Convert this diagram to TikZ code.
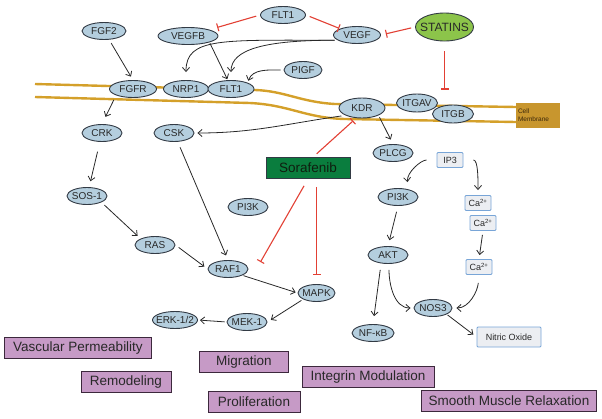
\documentclass[tikz,border=0pt]{standalone}
\usepackage{fontspec}
\setmainfont{Liberation Sans}
\usetikzlibrary{shapes.geometric,arrows.meta}
\definecolor{protfill}{RGB}{180,206,222}
\definecolor{protline}{RGB}{50,58,68}
\definecolor{txtgray}{RGB}{40,40,40}
\definecolor{statfill}{RGB}{140,196,74}
\definecolor{sorafill}{RGB}{10,125,62}
\definecolor{purpfill}{RGB}{198,154,198}
\definecolor{purpline}{RGB}{60,40,60}
\definecolor{membcol}{RGB}{212,160,42}
\definecolor{membbox}{RGB}{200,150,46}
\definecolor{inhred}{RGB}{226,64,52}
\definecolor{smallfill}{RGB}{236,238,242}
\definecolor{smallline}{RGB}{120,165,215}
\begin{document}
\begin{tikzpicture}[x=1pt,y=-1pt,
  prot/.style={ellipse, draw=protline, fill=protfill, line width=0.9pt, inner xsep=-3pt, inner ysep=0pt,
    minimum width=40, minimum height=17, text=txtgray, font=\fontsize{10}{11}\selectfont},
  small/.style={rectangle, rounded corners=1pt, draw=smallline, fill=smallfill, line width=0.9pt,
    minimum width=26, minimum height=15, inner sep=1pt, text=txtgray, font=\fontsize{9}{10}\selectfont},
  effect/.style={rectangle, draw=purpline, fill=purpfill, line width=0.8pt, minimum height=21,
    inner sep=2pt, text=txtgray, font=\fontsize{13.5}{15}\selectfont},
  membr/.style={draw=membcol, line width=2.4pt},
  act/.style={draw=txtgray, line width=0.8pt, -{Straight Barb[length=4pt,width=7pt]},
    shorten <=4pt, shorten >=4pt},
  inh/.style={draw=inhred, line width=1.1pt, -{Bar[width=8pt,line width=1.1pt]},
    shorten <=4pt, shorten >=4pt}]
\useasboundingbox (0,0) rectangle (602,418);
\draw[membr] (35,84) -- (255,90) .. controls (285,91) and (300,102) .. (335,104) -- (516,107);
\draw[membr] (35,97) -- (250,103) .. controls (290,105) and (305,118) .. (345,119) -- (516,122);
\node[rectangle, fill=membbox, text width=40pt, align=left, inner xsep=2pt, minimum height=25,
  font=\fontsize{6.5}{7.5}\selectfont, text={rgb,255:red,60;green,40;blue,10}] (cellm) at (538,115) {Cell\\Membrane};
\node[prot, minimum width=45] (flta) at (283,15) {FLT1};
\node[prot, minimum width=44] (fgf2) at (104,31) {FGF2};
\node[prot, minimum width=60] (vegfb) at (188,36) {VEGFB};
\node[prot, minimum width=47] (vegf) at (357,35) {VEGF};
\node[ellipse, draw=protline, fill=statfill, line width=0.9pt, inner xsep=-7pt, inner ysep=0pt,
  minimum width=58, minimum height=28, text=txtgray, font=\fontsize{12}{13}\selectfont] (statins) at (444.5,27) {STATINS};
\node[prot, minimum width=38] (pigf) at (303,70) {PIGF};
\node[prot, minimum width=47] (fgfr) at (133,89) {FGFR};
\node[prot, minimum width=45] (nrp1) at (186,89) {NRP1};
\node[prot, minimum width=46] (fltb) at (231,89) {FLT1};
\node[prot, minimum width=46, minimum height=20] (kdr) at (362,108) {KDR};
\node[prot, minimum width=41, minimum height=18] (itgav) at (417,103) {ITGAV};
\node[prot, minimum width=41, minimum height=18] (itgb) at (453,114) {ITGB};
\draw[inh, shorten >=8pt] (flta.west) -- (vegfb.north east);
\draw[inh, shorten >=1pt] (flta.east) -- (vegf.north west);
\draw[inh, shorten >=5pt] (statins.west) -- (vegf.east);
\draw[inh, shorten <=10pt] (statins.south) -- (statins.south |- itgav.north);
\draw[act] (fgf2) -- (fgfr.north);
\draw[act, shorten <=1pt, shorten >=1pt] (vegfb.south east) -- (fltb.110);
\draw[act, shorten <=3pt, shorten >=8pt] (vegf.195) to[out=180,in=90,out looseness=1.9,in looseness=0.7] (nrp1.north);
\draw[act, shorten <=3pt, shorten >=8pt] (vegf.195) to[out=180,in=90,out looseness=1.6,in looseness=0.7] (fltb.north);
\draw[act, shorten <=3pt, shorten >=2pt] (pigf.west) to[out=180,in=70] (fltb.north east);
\node[prot] (crk) at (102,133) {CRK};
\node[prot] (csk) at (174,133) {CSK};
\node[prot] (sos1) at (87,196) {SOS-1};
\node[prot] (ras) at (155,245) {RAS};
\node[prot] (raf1) at (228,269) {RAF1};
\node[prot] (pikl) at (248,207) {PI3K};
\node[rectangle, draw=protline, fill=sorafill, line width=0.8pt, minimum width=84, minimum height=21,
  text={rgb,255:red,15;green,30;blue,15}, font=\fontsize{13.5}{15}\selectfont] (sorafenib) at (308,168) {Sorafenib};
\node[prot, minimum width=37] (mapk) at (316.5,293) {MAPK};
\node[prot] (mek1) at (247,322) {MEK-1};
\node[prot, minimum width=45] (erk) at (175,320) {ERK-1/2};
\draw[act, shorten <=5pt, shorten >=8pt] (fgfr.south west) -- (crk.north);
\draw[act, shorten >=3pt] (kdr.south west) to[out=188,in=0] (csk.east);
\draw[inh, shorten <=5pt] ([xshift=5pt]sorafenib.north) -- (kdr.240);
\draw[inh, shorten <=8pt, shorten >=0pt] (sorafenib.south) -- ([xshift=12pt,yshift=7pt]raf1.east);
\draw[inh, shorten <=8pt, shorten >=9pt] (mapk.north |- sorafenib.south) -- (mapk.north);
\draw[act, shorten <=10pt, shorten >=6pt] (crk) -- (sos1);
\draw[act] (sos1.south east) -- (ras.north west);
\draw[act] (ras.east) -- (raf1.west);
\draw[act, shorten <=6pt, shorten >=5pt] (csk) -- (raf1.north);
\draw[act, shorten <=1pt, shorten >=2pt] (raf1.south east) -- (mapk.west);
\draw[act, shorten <=2pt] (mapk.south west) -- (mek1.east);
\draw[act, shorten <=2pt, shorten >=2pt] (mek1.west) -- (erk.east);
\node[prot] (plcg) at (393,153) {PLCG};
\node[small] (ip3) at (450,160) {IP3};
\node[prot] (pikr) at (398,197) {PI3K};
\node[prot] (akt) at (388,255) {AKT};
\node[small] (caa) at (478,203) {Ca\textsuperscript{2+}};
\node[small] (cab) at (483,223) {Ca\textsuperscript{2+}};
\node[small] (cac) at (479,267) {Ca\textsuperscript{2+}};
\node[prot, minimum width=38] (nos3) at (433,308) {NOS3};
\node[prot, minimum width=42] (nfkb) at (373,333) {NF-κB};
\node[small, minimum width=64, minimum height=20] (no) at (509,337) {Nitric Oxide};
\draw[act, shorten <=2pt, shorten >=5pt] (kdr.south east) -- (plcg.north);
\draw[act, shorten <=10pt, shorten >=6pt] (ip3.west) to[out=180,in=95] ([xshift=10pt]pikr.north);
\draw[act, shorten <=10pt, shorten >=5pt] (ip3.east) to[out=0,in=90] (caa.north);
\draw[act] (cab.south) -- (cac.north);
\draw[act, shorten <=6pt, shorten >=6pt] (pikr.south) -- (akt.north);
\draw[act, shorten <=6pt, shorten >=8pt] ([xshift=-7pt]akt.south) -- (nfkb.north);
\draw[act, shorten <=6pt, shorten >=3pt] ([xshift=1pt]akt.south) to[out=-90,in=180] (nos3.west);
\draw[act, shorten <=8pt, shorten >=4pt] (cac.south) to[out=-95,in=0] (nos3.east);
\draw[act, shorten <=1pt, shorten >=4pt] (nos3.south east) -- (no.west);
\node[effect, minimum width=147] (vp) at (78,348) {Vascular Permeability};
\node[effect, minimum width=89] (migr) at (244,362) {Migration};
\node[effect, minimum width=90] (remod) at (126,382) {Remodeling};
\node[effect, minimum width=132] (integ) at (368,377) {Integrin Modulation};
\node[effect, minimum width=92] (prolif) at (254,402) {Proliferation};
\node[effect, minimum width=175] (smr) at (509,401) {Smooth Muscle Relaxation};
\end{tikzpicture}
\end{document}
